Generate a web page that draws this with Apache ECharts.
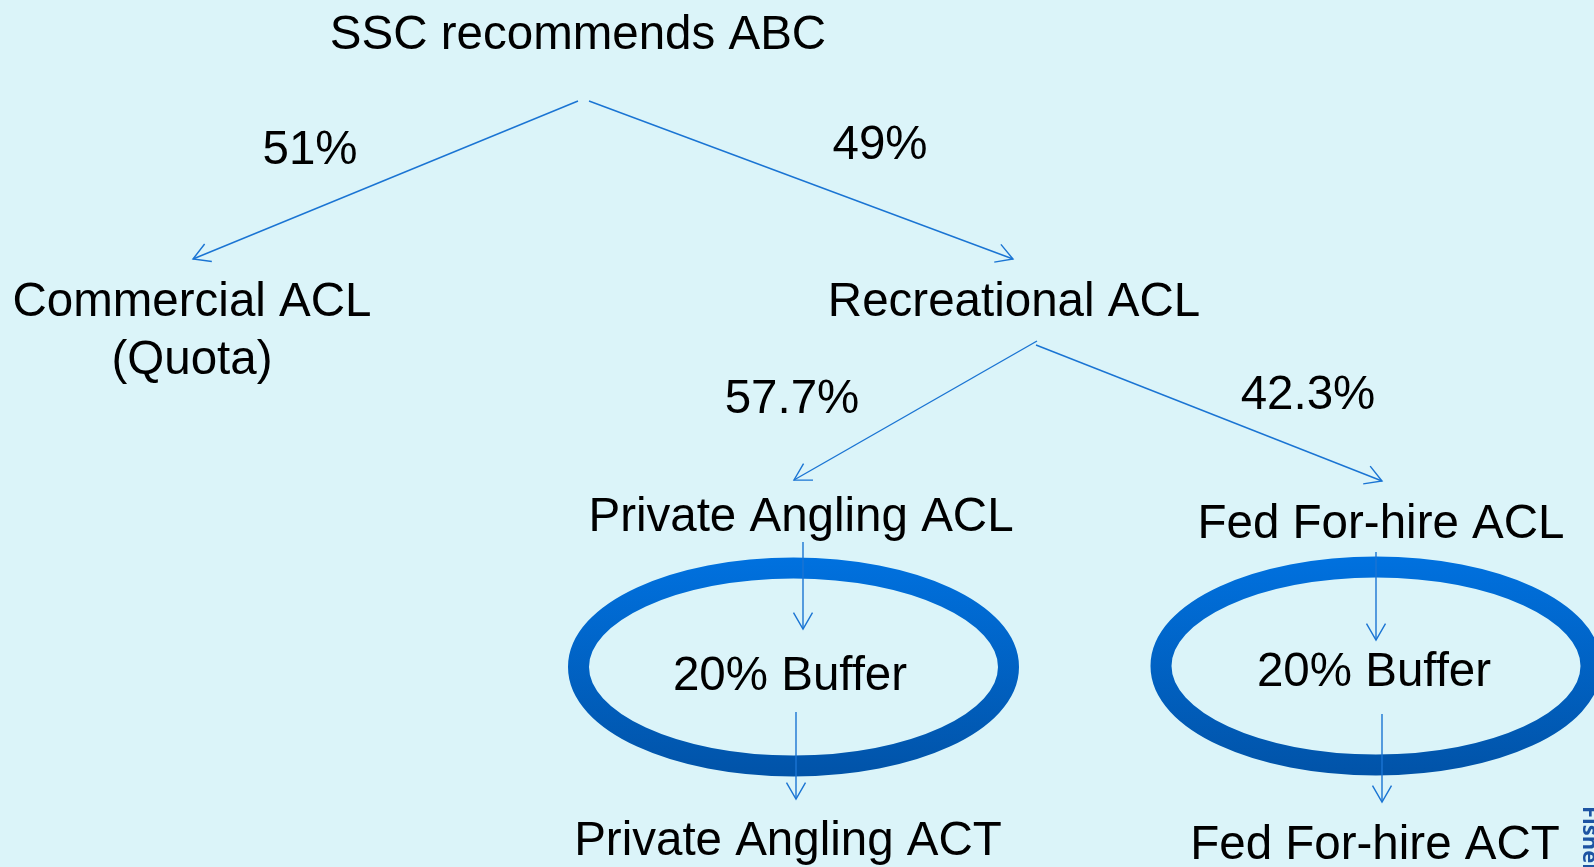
<!DOCTYPE html>
<html>
    <head>
        <meta http-equiv="Content-Type" content="text/html; charset=utf-8" />
        <title>acl-flow</title>
        <script type="text/javascript" src="https://cdn.jsdelivr.net/npm/echarts@6/dist/echarts.min.js"></script>
        <style>
            html, body { margin: 0; padding: 0; background: #dbf4f9; }
        </style>
    </head>

    <body>
    	<div style="width:1594px;height:867px;" id="flow"></div>
        <script type="text/javascript">
			// labels of the boxes
			var nodeLabels = ['SSC recommends ABC', 'Commercial ACL\n(Quota)', 'Recreational ACL',
				'Private Angling ACL', 'Fed For-hire ACL', 'Private Angling ACT', 'Fed For-hire ACT'];
			// allocation percentages on the arrows
			var splitShares = [51, 49, 57.7, 42.3];
			// buffers inside the rings
			var bufferShares = [20, 20];

			// layout (page pixels)
			var nodePos = [[578, 36], [192, 332], [1014, 303], [801, 518], [1381, 525], [788, 842], [1375, 846]];
			var sharePos = [[310, 151], [880, 146], [792, 400], [1308, 396]];
			var bufferPos = [[790, 677], [1374, 673]];
			var ringPos = [[793.5, 667, 215, 99], [1376, 666, 215, 99]];
			var arrows = [
				[578, 101, 193, 259],
				[589, 101, 1013, 259],
				[1037, 341, 794, 480],
				[1036, 345, 1382, 481],
				[803, 542, 803, 629],
				[796, 712, 796, 799],
				[1376, 552, 1376, 640],
				[1382, 714, 1382, 802]
			];

			var lineColor = '#1a74d3';
			var fontName = '"Liberation Sans", Arial, sans-serif';

			var textData = [];
			nodeLabels.forEach(function (t, i) {
				textData.push({ name: t, value: nodePos[i] });
			});
			splitShares.forEach(function (v, i) {
				textData.push({ name: v + '%', value: sharePos[i] });
			});
			bufferShares.forEach(function (v, i) {
				textData.push({ name: v + '% Buffer', value: bufferPos[i] });
			});

			var myChart = echarts.init(document.getElementById('flow'));

			option = {
				backgroundColor: '#dbf4f9',
				animation: false,
				grid: { left: 0, right: 0, top: 0, bottom: 0 },
				xAxis: { type: 'value', min: 0, max: 1594, show: false },
				yAxis: { type: 'value', min: 0, max: 867, inverse: true, show: false },
				graphic: [{
					type: 'text',
					x: 1600,
					y: 806,
					rotation: -Math.PI / 2,
					style: {
						text: 'Fisheries',
						fill: '#1d54a3',
						font: 'bold 22px "Open Sans", sans-serif',
						textAlign: 'left',
						textVerticalAlign: 'top'
					}
				}],
				series: [
					{
						// the two buffer rings
						type: 'custom',
						clip: false,
						data: ringPos,
						renderItem: function (params, api) {
							var c = api.coord([api.value(0), api.value(1)]);
							var r = api.size([api.value(2), api.value(3)]);
							return {
								type: 'ellipse',
								shape: { cx: c[0], cy: c[1], rx: r[0], ry: r[1] },
								style: {
									fill: null,
									lineWidth: 21,
									stroke: new echarts.graphic.LinearGradient(0, 0, 0, 1, [
										{ offset: 0, color: '#0071df' },
										{ offset: 1, color: '#0153a8' }
									])
								}
							};
						}
					},
					{
						// arrows with open heads
						type: 'custom',
						clip: false,
						data: arrows,
						z: 3,
						encode: { x: [0, 2], y: [1, 3] },
						renderItem: function (params, api) {
							var p1 = api.coord([api.value(0), api.value(1)]);
							var p2 = api.coord([api.value(2), api.value(3)]);
							var ang = Math.atan2(p1[1] - p2[1], p1[0] - p2[0]);
							var len = 19, spread = Math.PI / 6;
							var a = [p2[0] + len * Math.cos(ang + spread), p2[1] + len * Math.sin(ang + spread)];
							var b = [p2[0] + len * Math.cos(ang - spread), p2[1] + len * Math.sin(ang - spread)];
							return {
								type: 'group',
								children: [{
									type: 'line',
									shape: { x1: p1[0], y1: p1[1], x2: p2[0], y2: p2[1] },
									style: { stroke: lineColor, lineWidth: 1.4 }
								}, {
									type: 'polyline',
									shape: { points: [a, p2, b] },
									style: { stroke: lineColor, lineWidth: 1.4, fill: null }
								}]
							};
						}
					},
					{
						// all text
						type: 'scatter',
						symbolSize: 0,
						z: 4,
						itemStyle: { opacity: 1 },
						emphasis: { disabled: true },
						data: textData,
						label: {
							show: true,
							position: 'inside',
							formatter: '{b}',
							color: '#000',
							opacity: 1,
							fontSize: 47.5,
							lineHeight: 58,
							fontFamily: fontName
						}
					}
				]
			};

			myChart.setOption(option);
		</script>
    </body>
</html>
